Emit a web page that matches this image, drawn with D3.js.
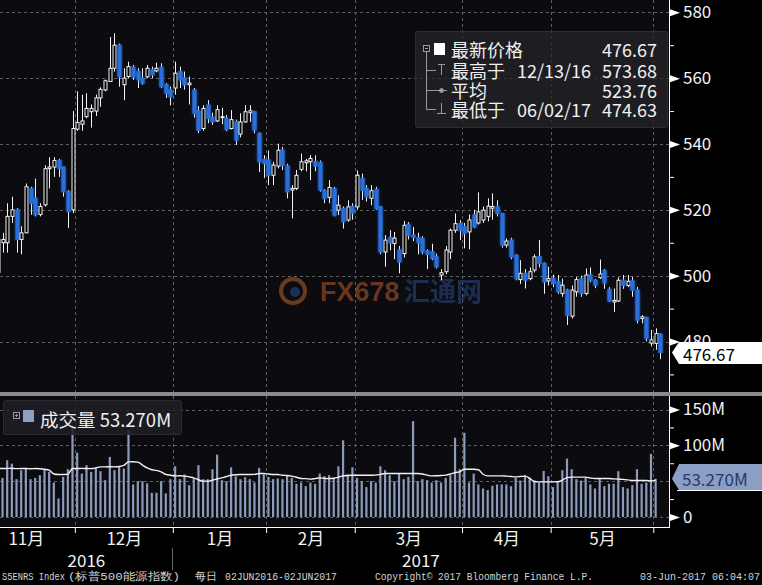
<!DOCTYPE html>
<html><head><meta charset="utf-8">
<script src="https://cdn.jsdelivr.net/npm/d3@7"></script>
<style>body{margin:0;background:#000}svg{display:block}</style>
</head><body><svg id="c" width="762" height="585"></svg>
<script>
// ---------------- DATA ----------------
const dates = ["11/07","11/08","11/09","11/10","11/11","11/14","11/15","11/16","11/17","11/18","11/21","11/22","11/23","11/25","11/28","11/29","11/30",
"12/01","12/02","12/05","12/06","12/07","12/08","12/09","12/12","12/13","12/14","12/15","12/16","12/19","12/20","12/21","12/22","12/23","12/27","12/28","12/29","12/30",
"01/03","01/04","01/05","01/06","01/09","01/10","01/11","01/12","01/13","01/17","01/18","01/19","01/20","01/23","01/24","01/25","01/26","01/27","01/30","01/31",
"02/01","02/02","02/03","02/06","02/07","02/08","02/09","02/10","02/13","02/14","02/15","02/16","02/17","02/21","02/22","02/23","02/24","02/27","02/28",
"03/01","03/02","03/03","03/06","03/07","03/08","03/09","03/10","03/13","03/14","03/15","03/16","03/17","03/20","03/21","03/22","03/23","03/24","03/27","03/28","03/29","03/30","03/31",
"04/03","04/04","04/05","04/06","04/07","04/10","04/11","04/12","04/13","04/17","04/18","04/19","04/20","04/21","04/24","04/25","04/26","04/27","04/28",
"05/01","05/02","05/03","05/04","05/05","05/08","05/09","05/10","05/11","05/12","05/15","05/16","05/17","05/18","05/19","05/22","05/23","05/24","05/25","05/26","05/30","05/31",
"06/01","06/02"];

const open = [501,510,510,518,520,511,513,526.5,523.5,518.6,521.5,532.5,533,535,533,525.5,520,
544.5,546,548.3,549.8,550,554,556.4,559,563,570,558,560.5,563.3,562,560,560.4,562.5,562.2,563.3,558,556.4,
557,562,560,558,556.4,550,544.7,551.8,548.1,547,548,547.8,544.7,546.7,543,546.7,549.5,549.8,543.2,535.3,
535.1,530.5,533.3,538.1,533.3,526,526.5,532.3,534.3,534.6,534.6,534.3,525.8,523.8,526.5,519.9,520.4,516.9,521,
520.9,529.5,526.5,523.5,526.2,520.9,507.2,511.6,509.8,507.8,506.7,515.6,512.3,511.5,511.3,507.5,507.2,505.7,500.2,501.2,507.2,513.8,515.8,
514.8,513.3,518.4,516,516.9,518,520.5,520.9,518.9,509.3,510.8,506.2,498.8,500.7,499.1,501.7,505.8,503.7,498.4,
499.1,498.1,494.6,495.6,487.7,495.1,499.1,494.6,500.2,498.6,499.4,501.5,495.8,492,492.3,498.6,497,498.4,495.6,487,487.3,479.5,
479.4,482.2];

const high = [512,513,522,524,520.5,515,528,527,529.5,522,533.5,536,536,535.5,533,526,550,
556,555,555.4,552,555,557.2,559.6,572.5,573.68,570.5,563,565,564,563,563,564,563.5,564.7,564.5,558.5,557.5,
565,563.5,562,560.5,557,551.5,551.8,553.3,549.5,551.8,551,548.8,550.3,547.4,549.3,551.8,551.8,550,543.5,536.6,
538,534.6,540.1,539.1,534,527.5,532.1,537.1,535.5,536.6,536.6,535,526.3,529,527,524.4,521,522.9,522,
532,531,527.5,527.5,527,521,512.3,513.8,513.3,509,516.6,516.3,514.8,513,512,508,509.7,506.7,502,509,514.3,518.9,516.9,
516,518.6,520,525.3,521,523.5,525,522.9,519,511.3,511.5,506.5,504.7,502,502.5,506.5,510.8,504,502.7,
500.3,500.2,499.1,496,497,499.6,500,502.2,502.5,499,504.9,502,496.5,496.1,499.5,500.2,500.2,499.6,496.6,488,487.5,483.5,
484,482.5];

const low = [500,507,507,516,507,506.5,513,518.5,518,518,521,526.5,530,530,524,514.5,519,
544,544,547.8,545,548.5,551.3,556,558.9,562,557.4,553.3,560,559.5,557,558,560,560,561.8,557,554,551.7,
555,557,556.5,552,548,543.3,544,546.3,545.8,546.7,546,543.9,544.4,539.7,542,546.5,546.7,543.2,531.5,529.6,
527.5,527.5,532.6,532.1,523.5,517.4,526,531.7,531.7,529,531.7,525.5,522,522,518,518.4,514.3,516.4,517,
520,523,522.5,521.4,520,506.5,502.7,507.7,505,500.7,505.5,511,510.5,506.5,506.5,502,504.7,502.2,498.6,500.5,505,513,510.8,
508.3,508,514.5,515.5,516,516.5,517,518,508.5,508.5,505,498.6,497.5,496.1,498.6,501,502.5,494.5,497,
496.5,494.5,493.6,485,487,493.6,493.6,494,498,496.2,499,496,492,489,492,496,496.5,493.6,485.5,485.5,480,478.5,
477.5,474.63];

const close = [511,511,518,520,511,513,527,522,518.5,521,532.5,533,535,532.6,525.5,519.5,544.7,
546.5,547,550.8,550.8,554,556.6,559.2,563,570,560.4,560,563.5,560.4,559.5,558.5,563,561,563,557.4,555.4,554.3,
561.5,559.5,558,558.5,549.3,544.2,550.8,547.8,546.7,550.4,548.3,544.4,547.4,541.2,546.7,549.8,550.1,544.2,534.6,534.1,
530.5,533.6,538.1,533.6,525.5,526.5,530.5,534.6,534.9,535.6,533.3,526,523.5,526.8,518.4,521.4,516.4,520.9,519,
530.5,526,524,525.8,520.4,507.2,510.8,510,511.4,504.2,515.3,512.3,511.6,510,507.2,506.5,505.2,502.7,500.9,507.8,513.8,515.8,513.8,
512.8,516.9,514.8,519.4,519.9,521.1,521,518.9,509.3,510.5,505.7,499.1,500.7,498.6,501.2,505.7,503.7,498.1,499.1,
497.6,495.1,497.1,488,495.6,498.8,494.6,500.2,498.6,497.1,500.5,497.8,492.3,492.5,498.6,497.1,498.3,495.6,486.5,487.5,480.9,480.5,
482.4,476.67];

// volume in millions (bars shown through 06/01)
const volume = [59.3,54.6,79.2,74.5,52.8,65.3,68.5,52.8,54.6,58.3,67.6,63,48.1,25.9,56,66.7,127.8,
89.8,60.6,72.2,63,68.5,63.9,51.4,83.8,65.3,70.8,67.6,120.8,45.4,50,50,46.8,33.8,33.8,50,32.9,52.8,
70.8,52.8,59.3,44.4,53.7,72.2,52.8,52.8,66.7,87,51.4,50,69.4,56.9,52.8,55.6,52.8,48.1,68.5,59.3,
56,52.8,53.7,52.8,58.3,54.6,46.3,48.1,43,48.1,46.3,60.6,56.9,58.3,54.6,70.8,107,59.3,69.4,
54.6,50,41.7,50,48.1,70.8,65.3,58.3,50,60.6,52.8,56,133.8,50,52.8,51.4,48.1,51.4,48.1,54.6,58.3,110.6,66.7,
117.6,48.1,60.6,45.4,39.8,37.5,43.5,45.4,45.4,45.4,43,54.6,50.9,58.3,54.6,50.9,48.1,64.4,56.9,
41.7,49.1,65.3,81.5,66.7,52.8,50.9,54.6,45.4,39.8,54.6,43,46.3,46.3,63.9,41.7,39.8,44.4,66.7,46.3,48.1,88,
53.27];

// volume moving-average line (millions)
const volumeMA = [67.6,67.6,67.8,68,67.5,67.6,67.6,67.4,67.6,67.3,66.5,65.3,60,59.3,59.3,59.5,67.6,
67.6,67.8,67.6,67.5,68.5,70,70,70.2,70,70.5,72,76.9,77,76.5,72.5,68.5,66,65,63,59.5,58.3,
57.4,57.5,57,56,54.6,52,50,50,51.4,53,54.6,56.5,58.3,59,59.3,59.3,59.3,59.5,60.6,60.6,
60,59.3,59.3,58.3,58,57,55.5,53.7,53.5,52.8,53.5,54.6,54,53.5,54,55.5,57.4,58,58.3,
58.3,58.3,58.3,58.3,58.5,59.5,60.6,60.6,60.6,60.6,60.6,60.6,60.6,60.6,60,58.5,57.4,57.6,58,58.5,60,62,63,
66.7,66.7,66.7,66,59.7,57.4,57.4,57.4,57.4,57,56.5,56,56.5,57,54,49.5,49,49,49,
49,49.1,51.4,55,55.6,55.6,55.6,55.6,54.5,53.7,53.7,53.7,53.7,53.2,52.8,52.5,51.8,50.9,50.9,50.9,50.9,50.3,
51.4];

const priceTicks = [480, 500, 520, 540, 560, 580];
const priceMinorTicks = [470, 490, 510, 530, 550, 570];
const volGrid = [0, 50, 100, 150];
const volTicks = [0, 100, 150];
const volTickLabels = ["0", "100M", "150M"];
const volMinorTicks = [25, 75, 125];
const monthLabels = ["11月", "12月", "1月", "2月", "3月", "4月", "5月"];
const monthBounds = [-4.5, 16.5, 37.5, 57.5, 76.5, 99.5, 118.5, 140.5]; // trading-day index of month boundaries
const yearLabels = ["2016", "2017"];
const yearBound = 37.5;

const lastPrice = "476.67", highText = "12/13/16", highVal = "573.68", avgVal = "523.76", lowText = "06/02/17", lowVal = "474.63";
const volLast = 53.27, volLastText = "53.270M";

// ---------------- DRAW ----------------
const svg = d3.select("#c");
const W = 762, H = 585;
const plotR = 669;
const pTop = 0, pBot = 392;
const vTop = 396, vBot = 527;
const CJK = "'Noto Sans CJK SC','Noto Sans',sans-serif";

const x = d3.scaleLinear().domain([16, 142]).range([72.5, 660.3]);
const y = d3.scaleLinear().domain([480, 580]).range([341.5, 12.3]);
const yv = d3.scaleLinear().domain([0, 150]).range([517, 409.5]);

svg.append("rect").attr("width", W).attr("height", H).attr("fill", "#000");
svg.append("rect").attr("x", 0).attr("y", pTop).attr("width", plotR).attr("height", pBot - pTop).attr("fill", "#0b0b10");
svg.append("rect").attr("x", 0).attr("y", vTop).attr("width", plotR).attr("height", vBot - vTop).attr("fill", "#0b0b10");

const defs = svg.append("defs");
defs.append("clipPath").attr("id", "cp").append("rect").attr("x", 0).attr("y", 0).attr("width", plotR - 1).attr("height", pBot);
defs.append("clipPath").attr("id", "cv").append("rect").attr("x", 0).attr("y", vTop).attr("width", plotR - 1).attr("height", vBot - vTop);
const glow = defs.append("filter").attr("id", "glow").attr("x", "-100%").attr("y", "-20%").attr("width", "300%").attr("height", "140%");
glow.append("feGaussianBlur").attr("stdDeviation", 1.2).attr("result", "b");
const fm = glow.append("feMerge"); fm.append("feMergeNode").attr("in", "b"); fm.append("feMergeNode").attr("in", "SourceGraphic");

// grid
const grid = svg.append("g").attr("stroke", "#5e5e5e").attr("stroke-dasharray", "3,3").attr("stroke-width", 1);
priceTicks.forEach(v => grid.append("line").attr("x1", 0).attr("x2", plotR).attr("y1", Math.round(y(v)) + 0.5).attr("y2", Math.round(y(v)) + 0.5));
volGrid.forEach(v => grid.append("line").attr("x1", 0).attr("x2", plotR).attr("y1", Math.round(yv(v)) + 0.5).attr("y2", Math.round(yv(v)) + 0.5));
monthBounds.forEach(b => {
  const xx = Math.round(x(b)) + 0.5;
  if (xx < 0 || xx > plotR) return;
  grid.append("line").attr("x1", xx).attr("x2", xx).attr("y1", pTop).attr("y2", pBot);
  grid.append("line").attr("x1", xx).attr("x2", xx).attr("y1", vTop).attr("y2", vBot);
});

// watermark
const wm = svg.append("g").attr("opacity", 0.55);
wm.append("circle").attr("cx", 293).attr("cy", 291).attr("r", 12).attr("fill", "none").attr("stroke", "#b8612c").attr("stroke-width", 4);
wm.append("circle").attr("cx", 295).attr("cy", 292).attr("r", 5).attr("fill", "#2a4f8f");
wm.append("text").attr("x", 320).attr("y", 301).attr("font-family", "'Liberation Sans',Arial,sans-serif").attr("font-weight", "bold")
  .attr("font-size", 27).attr("fill", "#b35a28").text("FX678");
wm.append("text").attr("x", 404).attr("y", 301).attr("font-family", CJK).attr("font-weight", "bold")
  .attr("font-size", 26).attr("fill", "#2a4a86").text("汇通网");

// volume bars
const vg = svg.append("g").attr("clip-path", "url(#cv)");
vg.selectAll("rect").data(volume).join("rect")
  .attr("x", (d, i) => x(i) - 1.1).attr("width", 2.2)
  .attr("y", d => yv(d)).attr("height", d => yv(0) - yv(d))
  .attr("fill", "#8c9bb9");
vg.append("path").datum(volumeMA)
  .attr("d", d3.line().x((d, i) => x(i)).y(d => yv(d)).curve(d3.curveMonotoneX))
  .attr("fill", "none").attr("stroke", "#f2f2f2").attr("stroke-width", 1.4);

// candles
const cg = svg.append("g").attr("clip-path", "url(#cp)");
const idx = d3.range(open.length);
const up = i => close[i] >= open[i];
cg.selectAll("line.w").data(idx).join("line").attr("class", "w")
  .attr("x1", i => Math.round(x(i)) + 0.5).attr("x2", i => Math.round(x(i)) + 0.5)
  .attr("y1", i => y(Math.max(high[i], open[i], close[i]))).attr("y2", i => y(Math.min(low[i], open[i], close[i])))
  .attr("stroke", "#f4f4f4").attr("stroke-width", 1);
cg.selectAll("rect.b").data(idx).join("rect").attr("class", "b")
  .attr("x", i => Math.round(x(i)) - 1)
  .attr("width", 3)
  .attr("y", i => y(Math.max(open[i], close[i])))
  .attr("height", i => Math.max(1, Math.abs(y(open[i]) - y(close[i]))))
  .attr("fill", i => up(i) ? "#000" : "#2a6fdb")
  .attr("stroke", i => up(i) ? "#f4f4f4" : "#2a6fdb").attr("stroke-width", 1)
  .attr("filter", i => up(i) ? null : "url(#glow)");

// panel separator
svg.append("rect").attr("x", 0).attr("y", 392).attr("width", W).attr("height", 4).attr("fill", "#8a8a8a");

// price legend
const lg = svg.append("g");
lg.append("rect").attr("x", 415.5).attr("y", 31.5).attr("width", 252).attr("height", 96).attr("rx", 2)
  .attr("fill", "rgba(36,36,42,0.72)").attr("stroke", "#2c2c32");
const tree = lg.append("g").attr("stroke", "#9a9a9a").attr("fill", "none").attr("stroke-width", 1);
tree.append("rect").attr("x", 423.5).attr("y", 45.5).attr("width", 6).attr("height", 6);
tree.append("line").attr("x1", 425).attr("x2", 428).attr("y1", 48.5).attr("y2", 48.5);
tree.append("line").attr("x1", 426.5).attr("x2", 426.5).attr("y1", 52).attr("y2", 109.5);
[70.5, 90.5, 109.5].forEach(yy => tree.append("line").attr("x1", 426.5).attr("x2", 436).attr("y1", yy).attr("y2", yy));
tree.append("line").attr("x1", 438).attr("x2", 445).attr("y1", 64.5).attr("y2", 64.5);
tree.append("line").attr("x1", 441.5).attr("x2", 441.5).attr("y1", 64.5).attr("y2", 75);
tree.append("line").attr("x1", 436).attr("x2", 447).attr("y1", 90.5).attr("y2", 90.5);
tree.append("circle").attr("cx", 441.5).attr("cy", 90.5).attr("r", 2).attr("fill", "#9a9a9a");
tree.append("line").attr("x1", 441.5).attr("x2", 441.5).attr("y1", 103).attr("y2", 113.5);
tree.append("line").attr("x1", 437).attr("x2", 446).attr("y1", 113.5).attr("y2", 113.5);
lg.append("rect").attr("x", 434).attr("y", 43).attr("width", 11).attr("height", 12).attr("fill", "#fff");
const lt = (xx, yy, t, anchor) => lg.append("text").attr("x", xx).attr("y", yy).attr("fill", "#f0f0f0")
  .attr("font-family", CJK).attr("font-size", 18).attr("dominant-baseline", "central")
  .attr("text-anchor", anchor || "start").text(t);
lt(451, 49, "最新价格"); lt(657, 49, lastPrice, "end");
lt(451, 69.5, "最高于"); lt(517, 69.5, highText); lt(657, 69.5, highVal, "end");
lt(451, 89.5, "平均"); lt(657, 89.5, avgVal, "end");
lt(451, 108.5, "最低于"); lt(517, 108.5, lowText); lt(657, 108.5, lowVal, "end");

// volume legend
const vl = svg.append("g");
vl.append("rect").attr("x", 3.5).attr("y", 400.5).attr("width", 178).attr("height", 34).attr("rx", 2)
  .attr("fill", "rgba(30,30,36,0.85)").attr("stroke", "#2a2a30");
vl.append("rect").attr("x", 13.5).attr("y", 412.5).attr("width", 6).attr("height", 6).attr("fill", "none").attr("stroke", "#9a9a9a");
vl.append("line").attr("x1", 15).attr("x2", 18).attr("y1", 415.5).attr("y2", 415.5).attr("stroke", "#9a9a9a");
vl.append("line").attr("x1", 16.5).attr("x2", 16.5).attr("y1", 414).attr("y2", 417).attr("stroke", "#9a9a9a");
vl.append("rect").attr("x", 23).attr("y", 410).attr("width", 11).attr("height", 12).attr("fill", "#8c9fc5");
vl.append("text").attr("x", 40).attr("y", 419).attr("fill", "#f0f0f0").attr("font-family", CJK).attr("font-size", 18.5)
  .attr("dominant-baseline", "central").text("成交量 " + volLastText);

// right price axis
const axP = svg.append("g").attr("transform", `translate(${plotR},0)`)
  .call(d3.axisRight(y).tickValues(priceTicks).tickSize(0).tickPadding(14).tickFormat(d3.format("d")));
axP.select(".domain").remove();
axP.selectAll("text").attr("fill", "#f2f2f2").attr("font-family", CJK).attr("font-size", 17);
axP.selectAll(".tick").append("path").attr("d", "M1,-3.5L11,0L1,3.5Z").attr("fill", "#fff");
const axPm = svg.append("g").attr("transform", `translate(${plotR},0)`)
  .call(d3.axisRight(y).tickValues(priceMinorTicks).tickSize(5).tickFormat(""));
axPm.select(".domain").remove(); axPm.selectAll("line").attr("stroke", "#fff");
svg.append("line").attr("x1", plotR + 0.5).attr("x2", plotR + 0.5).attr("y1", 0).attr("y2", pBot).attr("stroke", "#fff");

// last price marker
svg.append("path").attr("d", `M${plotR + 3},${y(476.67)}L${plotR + 10},342L${W},342L${W},364L${plotR + 10},364Z`).attr("fill", "#fff");
svg.append("text").attr("x", plotR + 14).attr("y", 353).attr("fill", "#000").attr("font-family", CJK).attr("font-size", 17)
  .attr("dominant-baseline", "central").text(lastPrice);

// right volume axis
const axV = svg.append("g").attr("transform", `translate(${plotR},0)`)
  .call(d3.axisRight(yv).tickValues(volTicks).tickSize(0).tickPadding(14).tickFormat((d, i) => volTickLabels[i]));
axV.select(".domain").remove();
axV.selectAll("text").attr("fill", "#f2f2f2").attr("font-family", CJK).attr("font-size", 17);
axV.selectAll(".tick").append("path").attr("d", "M1,-3.5L11,0L1,3.5Z").attr("fill", "#fff");
const axVm = svg.append("g").attr("transform", `translate(${plotR},0)`)
  .call(d3.axisRight(yv).tickValues(volMinorTicks).tickSize(5).tickFormat(""));
axVm.select(".domain").remove(); axVm.selectAll("line").attr("stroke", "#fff");
svg.append("line").attr("x1", plotR + 0.5).attr("x2", plotR + 0.5).attr("y1", vTop).attr("y2", vBot).attr("stroke", "#fff");

// last volume marker
const yl = yv(volLast);
svg.append("path").attr("d", `M${plotR + 3},${yl}L${plotR + 10},464L${W},464L${W},490L${plotR + 10},490Z`).attr("fill", "#8b9ec4");
svg.append("line").attr("x1", plotR + 8).attr("x2", W).attr("y1", 490.5).attr("y2", 490.5).attr("stroke", "#fff");
svg.append("text").attr("x", plotR + 13).attr("y", 478).attr("fill", "#26396a").attr("font-family", CJK).attr("font-size", 17)
  .attr("dominant-baseline", "central").text(volLastText);

// bottom axis
const axX = svg.append("g").attr("transform", `translate(0,${vBot})`)
  .call(d3.axisBottom(x).tickValues(monthBounds.filter(b => x(b) > 0 && x(b) < plotR)).tickSize(6).tickFormat(""));
axX.select(".domain").remove(); axX.selectAll("line").attr("stroke", "#fff");
svg.append("line").attr("x1", 0).attr("x2", plotR + 1).attr("y1", vBot + 0.5).attr("y2", vBot + 0.5).attr("stroke", "#fff");
const centers = monthLabels.map((m, i) => (monthBounds[i] + monthBounds[i + 1]) / 2);
const axL = svg.append("g").attr("transform", `translate(0,${vBot})`)
  .call(d3.axisBottom(x).tickValues(centers).tickSize(0).tickPadding(6).tickFormat((d, i) => monthLabels[i]));
axL.select(".domain").remove();
axL.selectAll("text").attr("fill", "#f2f2f2").attr("font-family", CJK).attr("font-size", 17);
const yb = x(yearBound);
svg.append("text").attr("x", (0 + yb) / 2).attr("y", 559).attr("text-anchor", "middle").attr("dominant-baseline", "central")
  .attr("fill", "#f2f2f2").attr("font-family", CJK).attr("font-size", 17).text(yearLabels[0]);
svg.append("text").attr("x", (yb + plotR) / 2).attr("y", 559).attr("text-anchor", "middle").attr("dominant-baseline", "central")
  .attr("fill", "#f2f2f2").attr("font-family", CJK).attr("font-size", 17).text(yearLabels[1]);
svg.append("line").attr("x1", Math.round(yb) - 0.5).attr("x2", Math.round(yb) - 0.5).attr("y1", 548).attr("y2", 570).attr("stroke", "#666");

// footer
const ft = (xx, w, t) => svg.append("text").attr("x", xx).attr("y", 580).attr("fill", "#d4d4d4")
  .attr("font-family", "'Liberation Mono','DejaVu Sans Mono',monospace").attr("font-size", 11)
  .attr("textLength", w).attr("lengthAdjust", "spacingAndGlyphs").text(t);
ft(2, 63, "S5ENRS Index");
ft(68, 112, "(标普500能源指数)");
ft(195, 22, "每日");
ft(225, 112, "02JUN2016-02JUN2017");
ft(375, 218, "Copyright© 2017 Bloomberg Finance L.P.");
ft(640, 120, "03-Jun-2017 06:04:07");
</script></body></html>
